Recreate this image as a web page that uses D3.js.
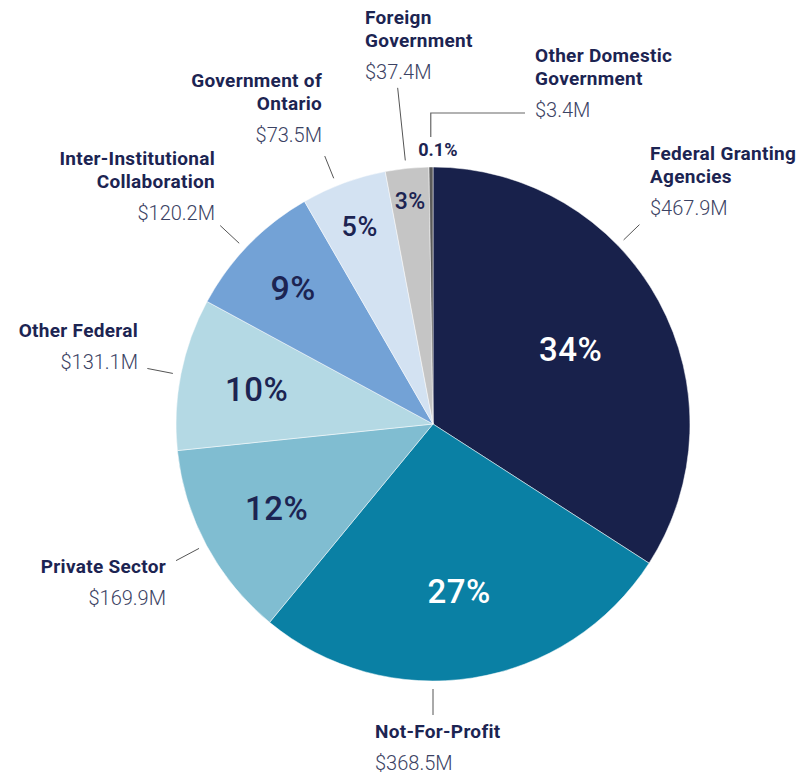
<!DOCTYPE html>
<html>
<head>
<meta charset="utf-8">
<script src="https://cdn.jsdelivr.net/npm/d3@7"></script>
<style>
  body { margin: 0; background: #fff; }
  svg { display: block; font-family: Roboto, "Open Sans", sans-serif; }
</style>
</head>
<body>
<div id="main_div"></div>
<script>
var WIDTH = 804;
var HEIGHT = 776;

var CENTER_X = 433;
var CENTER_Y = 424;
var RADIUS = 257;

// Data (values in $M), clockwise from 12 o'clock
var categories = ["Federal Granting Agencies", "Not-For-Profit", "Private Sector", "Other Federal",
                  "Inter-Institutional Collaboration", "Government of Ontario", "Foreign Government",
                  "Other Domestic Government"];
var values = [467.9, 368.5, 169.9, 131.1, 120.2, 73.5, 37.4, 3.4];
var pct_labels = ["34%", "27%", "12%", "10%", "9%", "5%", "3%", "0.1%"];
var value_labels = ["$467.9M", "$368.5M", "$169.9M", "$131.1M", "$120.2M", "$73.5M", "$37.4M", "$3.4M"];
var colors = ["#18214b", "#0a80a4", "#80bdd1", "#b4d9e4", "#73a2d6", "#d3e2f2", "#c5c5c5", "#5a5a5a"];

// Label lines for the outer names
var name_lines = [["Federal Granting", "Agencies"], ["Not-For-Profit"], ["Private Sector"], ["Other Federal"],
                  ["Inter-Institutional", "Collaboration"], ["Government of", "Ontario"],
                  ["Foreign", "Government"], ["Other Domestic", "Government"]];

// Layout: percentage label radius (fraction of radius) and font size
var pct_radius = [0.61, 0.66, 0.69, 0.70, 0.76, 0.82, 0.875, null];
var pct_size = [33, 33, 33, 33, 34, 27, 23, 18];

// Layout: outer label blocks [x, y of first baseline, anchor]
var label_pos = [[650, 160, "start"], [375, 738, "start"], [166, 573, "end"], [138, 337, "end"],
                 [215, 165, "end"], [322, 87, "end"], [365, 24, "start"], [535, 62, "start"]];
// Layout: leader angle (deg clockwise from top) and outer offset
var leader = [[46, 30], [180, 34], [242, 34], [281, 34], [313, 34], [338, 32], [354, 81], [null, 0]];

var TEXT_DARK = "#1c2452";
var TEXT_VALUE = "#3b4263";

var svg = d3.select("#main_div").append("svg")
              .attr("width", WIDTH)
              .attr("height", HEIGHT);

var data = categories.map(function(c, i) { return {name: c, value: values[i], i: i}; });

var pie = d3.pie().sort(null).value(function(d) { return d.value; });
var arcs = pie(data);

var arc = d3.arc().innerRadius(0).outerRadius(RADIUS);

var g = svg.append("g").attr("transform", "translate(" + CENTER_X + "," + CENTER_Y + ")");

g.selectAll("path.slice")
  .data(arcs).enter()
  .append("path")
    .attr("class", "slice")
    .attr("d", arc)
    .style("fill", function(d) { return colors[d.data.i]; })
    .style("stroke", "#fff")
    .style("stroke-width", 0.5);

function polar(angleDeg, r) {
  var a = angleDeg * Math.PI / 180;
  return [r * Math.sin(a), -r * Math.cos(a)];
}

// Percentage labels inside slices
g.selectAll("text.pct")
  .data(arcs.filter(function(d) { return pct_radius[d.data.i] !== null; })).enter()
  .append("text")
    .attr("class", "pct")
    .attr("transform", function(d) {
      var r = RADIUS * pct_radius[d.data.i];
      var c = d3.arc().innerRadius(r).outerRadius(r).centroid(d);
      return "translate(" + c[0] + "," + c[1] + ")";
    })
    .attr("text-anchor", "middle")
    .attr("dy", "0.36em")
    .style("font-size", function(d) { return pct_size[d.data.i] + "px"; })
    .style("font-weight", 500)
    .style("letter-spacing", "0.5px")
    .style("fill", function(d) { return d.data.i < 2 ? "#fff" : TEXT_DARK; })
    .text(function(d) { return pct_labels[d.data.i]; });

// Tiny slice label, sits above the pie
var tiny = arcs[7];
var tinyAngle = (tiny.startAngle + tiny.endAngle) / 2 * 180 / Math.PI;
var tinyPos = polar(tinyAngle, RADIUS + 17);
g.append("text")
    .attr("x", tinyPos[0] + 7)
    .attr("y", tinyPos[1])
    .attr("dy", "0.35em")
    .attr("text-anchor", "middle")
    .style("font-size", pct_size[7] + "px")
    .style("font-weight", 700)
    .style("fill", TEXT_DARK)
    .text(pct_labels[7]);

// Leader lines
arcs.forEach(function(d) {
  var i = d.data.i;
  if (leader[i][0] === null) {
    // elbow leader for the thin slice
    var ang = tinyAngle;
    var p0 = polar(ang, RADIUS + 30);
    var p1 = polar(ang, RADIUS + 54);
    var x2 = label_pos[i][0] - 10 - CENTER_X;
    g.append("path")
        .attr("d", "M" + p0[0] + "," + p0[1] + "L" + p0[0] + "," + p1[1] + "L" + x2 + "," + p1[1])
        .style("fill", "none")
        .style("stroke", "#666")
        .style("stroke-width", 1.2);
    return;
  }
  var a = polar(leader[i][0], RADIUS + 8);
  var b = polar(leader[i][0], RADIUS + leader[i][1]);
  g.append("line")
      .attr("x1", a[0]).attr("y1", a[1])
      .attr("x2", b[0]).attr("y2", b[1])
      .style("stroke", "#555")
      .style("stroke-width", 1);
});

// Outer labels
var labels = svg.selectAll("g.outer")
  .data(data).enter()
  .append("g")
    .attr("class", "outer")
    .attr("transform", function(d) {
      return "translate(" + label_pos[d.i][0] + "," + label_pos[d.i][1] + ")";
    });

labels.each(function(d) {
  var lg = d3.select(this);
  var anchor = label_pos[d.i][2];
  var lines = name_lines[d.i];
  lines.forEach(function(line, k) {
    lg.append("text")
        .attr("y", k * 23)
        .attr("text-anchor", anchor)
        .style("font-size", "19px")
        .style("font-weight", 700)
        .style("letter-spacing", "0.3px")
        .style("fill", TEXT_DARK)
        .text(line);
  });
  lg.append("text")
      .attr("y", (lines.length - 1) * 23 + 32)
      .attr("text-anchor", anchor)
      .style("font-size", "20px")
      .style("font-weight", 300)
      .style("fill", TEXT_VALUE)
      .text(value_labels[d.i]);
});
</script>
</body>
</html>
